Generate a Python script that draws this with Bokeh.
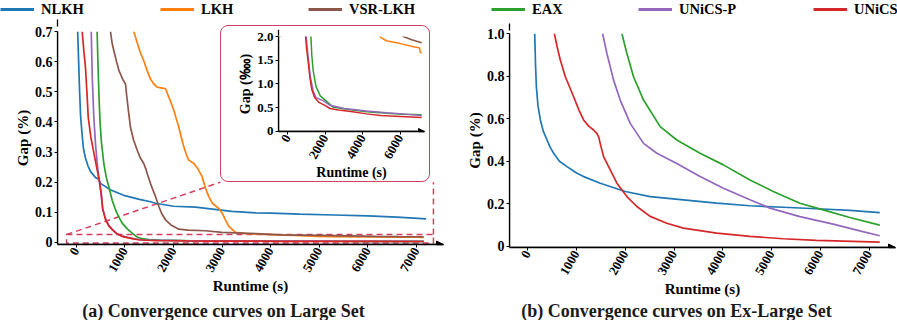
import math
from bokeh.plotting import figure
from bokeh.models import (Range1d, FixedTicker, PrintfTickFormatter, Arrow, NormalHead,
                          Legend, LegendItem, Label)
from bokeh.layouts import row, column
from bokeh.embed import file_html
from bokeh.resources import INLINE

FONT = "Liberation Serif"

# ---------------- data: Large Set (gap in %) ----------------
L_NLKH_X = [30, 50, 70, 90, 120, 150, 190, 240, 295, 400, 465, 500, 700, 1000, 1300, 1530, 1632, 2000, 2455, 3200, 3690, 4000, 4600, 5300, 6000, 6600, 7200]
L_NLKH_Y = [0.70, 0.60, 0.50, 0.42, 0.36, 0.31, 0.28, 0.255, 0.235, 0.215, 0.21, 0.196, 0.175, 0.155, 0.143, 0.135, 0.13, 0.12, 0.117, 0.103, 0.098, 0.097, 0.094, 0.091, 0.088, 0.084, 0.078]

L_UNICS_X = [123, 160, 191, 220, 247, 300, 360, 432, 480, 515, 545, 603, 670, 740, 830, 930, 1000, 1083, 1173, 1278, 1429, 1654, 1955, 2256, 2707, 3459, 4211, 4962, 6015, 7150]
L_UNICS_Y = [0.70, 0.63, 0.58, 0.50, 0.416, 0.35, 0.30, 0.24, 0.20, 0.16, 0.11, 0.076, 0.055, 0.042, 0.029, 0.021, 0.0175, 0.0148, 0.0115, 0.0088, 0.0071, 0.0061, 0.0055, 0.0048, 0.00447, 0.00413, 0.00367, 0.00333, 0.00313, 0.00290]

L_UNICSP_X = [309, 330, 362, 400, 440, 480, 515, 545, 603, 670, 740, 830, 930, 1000, 1080, 1200, 1353, 1504, 1880, 2256, 3008, 4211, 5263, 6165, 7150]
L_UNICSP_Y = [0.70, 0.55, 0.416, 0.32, 0.25, 0.20, 0.16, 0.112, 0.078, 0.057, 0.044, 0.030, 0.022, 0.019, 0.0158, 0.0115, 0.0085, 0.0071, 0.00647, 0.00547, 0.0048, 0.00427, 0.00393, 0.00367, 0.00333]

L_EAX_X = [430, 450, 470, 490, 520, 570, 620, 671, 740, 809, 880, 946, 1050, 1152, 1233, 1278, 1353, 1504, 1729, 2030, 2406, 3158, 4211, 5263, 6165, 7150]
L_EAX_Y = [0.70, 0.58, 0.48, 0.40, 0.33, 0.26, 0.215, 0.185, 0.14, 0.108, 0.083, 0.064, 0.045, 0.031, 0.020, 0.0161, 0.0128, 0.00947, 0.00747, 0.00647, 0.00513, 0.00467, 0.00413, 0.0038, 0.0036, 0.00347]

L_VSR_X = [705, 740, 775, 830, 880, 910, 960, 1015, 1030, 1050, 1080, 1115, 1180, 1255, 1320, 1390, 1430, 1460, 1540, 1632, 1700, 1760, 1837, 1950, 2111, 2300, 2660, 3000, 3690, 4200, 5000, 5600, 6165, 6617, 7150]
L_VSR_Y = [0.70, 0.66, 0.636, 0.60, 0.57, 0.559, 0.54, 0.526, 0.50, 0.471, 0.43, 0.383, 0.34, 0.306, 0.28, 0.262, 0.245, 0.229, 0.19, 0.152, 0.119, 0.095, 0.075, 0.058, 0.044, 0.041, 0.0386, 0.033, 0.029, 0.025, 0.023, 0.0215, 0.0200, 0.0193, 0.0187]

L_LKH_X = [1185, 1255, 1320, 1390, 1460, 1530, 1600, 1665, 1750, 1840, 1905, 1960, 2010, 2060, 2110, 2160, 2215, 2270, 2315, 2420, 2500, 2592, 2660, 2728, 2800, 2934, 3004, 3070, 3140, 3278, 3500, 4000, 4500, 4962, 5263, 6015, 6767, 7038, 7068, 7150]
L_LKH_Y = [0.70, 0.663, 0.63, 0.603, 0.570, 0.542, 0.525, 0.515, 0.513, 0.51, 0.482, 0.46, 0.438, 0.41, 0.383, 0.35, 0.317, 0.29, 0.273, 0.262, 0.245, 0.218, 0.18, 0.152, 0.13, 0.113, 0.097, 0.075, 0.053, 0.033, 0.029, 0.026, 0.023, 0.0198, 0.0191, 0.0185, 0.0178, 0.0176, 0.0167, 0.0165]

# ---------------- data: Ex-Large Set (gap in %) ----------------
X_NLKH_X = [143, 160, 177, 210, 259, 320, 396, 460, 532, 650, 805, 1000, 1146, 1487, 1999, 2510, 3192, 3874, 4557, 5239, 5921, 6603, 7217]
X_NLKH_Y = [1.0, 0.85, 0.75, 0.66, 0.594, 0.54, 0.5, 0.465, 0.4375, 0.40, 0.375, 0.345, 0.328, 0.297, 0.258, 0.234, 0.219, 0.203, 0.191, 0.184, 0.177, 0.169, 0.159]

X_UNICS_X = [546, 600, 668, 771, 941, 1050, 1146, 1250, 1351, 1420, 1453, 1500, 1555, 1692, 1828, 2033, 2237, 2510, 2851, 3192, 3874, 4557, 5239, 5921, 7217]
X_UNICS_Y = [1.0, 0.94, 0.875, 0.797, 0.703, 0.64, 0.594, 0.565, 0.547, 0.53, 0.515, 0.47, 0.422, 0.359, 0.297, 0.234, 0.1875, 0.141, 0.109, 0.086, 0.0625, 0.047, 0.036, 0.028, 0.02]

X_UNICSP_X = [1535, 1623, 1760, 1896, 2101, 2374, 2647, 3056, 3533, 4011, 4557, 4966, 5580, 6262, 6808, 7217]
X_UNICSP_Y = [1.0, 0.906, 0.781, 0.6875, 0.578, 0.484, 0.4375, 0.39, 0.328, 0.273, 0.219, 0.18, 0.14, 0.105, 0.073, 0.05]

X_EAX_X = [1930, 2033, 2169, 2374, 2715, 3056, 3533, 4011, 4557, 5034, 5580, 6058, 6603, 7217]
X_EAX_Y = [1.0, 0.906, 0.797, 0.6875, 0.5625, 0.5, 0.4375, 0.383, 0.3125, 0.258, 0.203, 0.172, 0.136, 0.1]

# ---------------- ticks & labels ----------------
X_TICKS = [0, 1000, 2000, 3000, 4000, 5000, 6000, 7000]
INSET_X_TICKS = [0, 2000, 4000, 6000]
L_Y_TICKS = [0, 0.1, 0.2, 0.3, 0.4, 0.5, 0.6, 0.7]
X_Y_TICKS = [0, 0.2, 0.4, 0.6, 0.8, 1.0]
INSET_Y_TICKS = [0, 0.5, 1.0, 1.5, 2.0]

LEGEND_NAMES = ["NLKH", "LKH", "VSR-LKH", "EAX", "UNiCS-P", "UNiCS"]
CAPTION_A = "(a) Convergence curves on Large Set"
CAPTION_B = "(b) Convergence curves on Ex-Large Set"

C_BLUE, C_ORANGE, C_GREEN = "#1f77b4", "#ff7f0e", "#2ca02c"
C_RED, C_PURPLE, C_BROWN = "#d62728", "#9467bd", "#8c564b"
LEGEND_COLORS = [C_BLUE, C_ORANGE, C_BROWN, C_GREEN, C_PURPLE, C_RED]
LEGEND_LEFT_PX = [0, 160, 308, 491, 638, 813]   # layout positions of legend entries
BOX_COLOR = "#d2405f"
LW = 1.7

W_TOTAL = 897
LEG_H = 20      # legend strip height
PLOT_H = 280    # plot row height
CAP_H = 20      # caption strip height


def style(p, xticks, yticks, xtick_fs, ytick_fs, lab_fs, xlabel, ylabel):
    p.xaxis.ticker = FixedTicker(ticks=xticks)
    p.yaxis.ticker = FixedTicker(ticks=yticks)
    p.yaxis.formatter = PrintfTickFormatter(format="%.1f")
    p.yaxis.major_label_overrides = {0: "0"}
    for ax in p.axis:
        ax.axis_line_color = "black"
        ax.axis_line_width = 1.3
        ax.major_tick_line_color = "black"
        ax.major_tick_out = 3
        ax.major_tick_in = 0
        ax.minor_tick_line_color = None
        ax.major_label_standoff = 2
        ax.axis_label_standoff = 1
        ax.major_label_text_font = FONT
        ax.major_label_text_font_style = "bold"
        ax.major_label_text_color = "black"
        ax.axis_label_text_font = FONT
        ax.axis_label_text_font_style = "bold"
        ax.axis_label_text_font_size = lab_fs
        ax.axis_label_text_color = "black"
    p.xaxis.major_label_text_font_size = xtick_fs
    p.yaxis.major_label_text_font_size = ytick_fs
    p.xaxis.major_label_standoff = 1
    p.xaxis.axis_label_standoff = 0
    p.xaxis.major_label_orientation = math.pi / 3
    p.xaxis.axis_label = xlabel
    p.yaxis.axis_label = ylabel
    p.xgrid.visible = False
    p.ygrid.visible = False
    p.outline_line_color = None


def frame_h(p):
    return p.height - p.min_border_top - p.min_border_bottom


def frame_w(p):
    return p.width - p.min_border_left - p.min_border_right


def arrows(p, top_px, size=7):
    xr, yr = p.x_range, p.y_range
    y_tip = yr.end + top_px * (yr.end - yr.start) / frame_h(p)
    head = dict(size=size, fill_color="black", line_color="black", line_width=1)
    p.add_layout(Arrow(end=NormalHead(**head), x_start=xr.start, y_start=yr.start,
                       x_end=xr.end, y_end=yr.start, line_color="black", line_width=1.3))
    p.add_layout(Arrow(end=NormalHead(**head), x_start=xr.start, y_start=yr.start,
                       x_end=xr.start, y_end=y_tip, line_color="black", line_width=1.3))


def strip(h):
    return figure(width=W_TOTAL, height=h, x_range=Range1d(0, W_TOTAL), y_range=Range1d(0, h),
                  output_backend="svg", toolbar_location=None, min_border=0,
                  x_axis_type=None, y_axis_type=None, outline_line_color=None)


# ---------------- legend strip ----------------
leg = strip(LEG_H)
for name, color, lx in zip(LEGEND_NAMES, LEGEND_COLORS, LEGEND_LEFT_PX):
    r = leg.line(x=[float("nan")], y=[float("nan")], line_width=3, color=color)
    leg.add_layout(Legend(items=[LegendItem(label=name, renderers=[r])],
                          orientation="horizontal", location=(lx, 2),
                          glyph_width=34, glyph_height=18, label_height=18, label_standoff=7,
                          padding=0, margin=0, border_line_alpha=0, background_fill_alpha=0,
                          label_text_font=FONT, label_text_font_style="bold",
                          label_text_font_size="14.5px", label_text_color="black"))

# ---------------- caption strip ----------------
cap = strip(CAP_H)
for text, cx in [(CAPTION_A, 223), (CAPTION_B, 676)]:
    cap.add_layout(Label(x=cx, y=CAP_H, text=text, text_align="center", text_baseline="top",
                         text_font=FONT, text_font_style="bold", text_font_size="18px",
                         text_color="#1a1a1a"))

# ---------------- left: Large set ----------------
W1 = 450
p1 = figure(width=W1, height=PLOT_H, x_range=Range1d(-385, 7557), y_range=Range1d(-0.007, 0.70),
            output_backend="svg", toolbar_location=None,
            min_border_left=57, min_border_right=7, min_border_top=34 - LEG_H,
            min_border_bottom=LEG_H + PLOT_H - 248,
            background_fill_alpha=0, border_fill_alpha=0)
style(p1, X_TICKS, L_Y_TICKS, "13px", "14px", "15px", "Runtime (s)", "Gap (%)")

# zoom box (data coordinates of the magnified region and of the inset panel)
ZOOM_L, ZOOM_R, ZOOM_B, ZOOM_T = -200, 7350, -0.002, 0.026
BOX_L, BOX_R, BOX_B, BOX_T = 2970, 7350, 0.20, 0.73

p1.quad(left=[ZOOM_L], right=[ZOOM_R], bottom=[ZOOM_B], top=[ZOOM_T], fill_alpha=0,
        line_color=BOX_COLOR, line_width=1.5, line_dash="6 4")
p1.segment(x0=[ZOOM_L, ZOOM_R], y0=[ZOOM_T, ZOOM_T], x1=[BOX_L, BOX_R], y1=[BOX_B, BOX_B],
           line_color=BOX_COLOR, line_width=1.5, line_dash="6 4")

SERIES_L = [(L_NLKH_X, L_NLKH_Y, C_BLUE), (L_LKH_X, L_LKH_Y, C_ORANGE),
            (L_VSR_X, L_VSR_Y, C_BROWN), (L_EAX_X, L_EAX_Y, C_GREEN),
            (L_UNICSP_X, L_UNICSP_Y, C_PURPLE), (L_UNICS_X, L_UNICS_Y, C_RED)]
for xs, ys, c in SERIES_L:
    p1.line(xs, ys, line_width=LW, color=c)

arrows(p1, 12)

# inset placement from main figure mapping
sx = frame_w(p1) / (p1.x_range.end - p1.x_range.start)
sy = frame_h(p1) / (p1.y_range.end - p1.y_range.start)
bl = round(p1.min_border_left + (BOX_L - p1.x_range.start) * sx)
br = round(p1.min_border_left + (BOX_R - p1.x_range.start) * sx)
bt = max(0, round(p1.min_border_top + (p1.y_range.end - BOX_T) * sy))
bb = round(p1.min_border_top + (p1.y_range.end - BOX_B) * sy)

inset = figure(width=br - bl - 3, height=bb - bt - 3,
               x_range=Range1d(-500, 7300), y_range=Range1d(-0.005, 2.0),
               output_backend="svg", toolbar_location=None,
               min_border_left=42, min_border_right=3, min_border_top=10, min_border_bottom=48,
               background_fill_alpha=0, border_fill_alpha=0)
inset.styles = {"border": "1.5px solid " + BOX_COLOR, "border-radius": "8px",
                "background-color": "white"}
style(inset, INSET_X_TICKS, INSET_Y_TICKS, "13px", "13px", "14px", "Runtime (s)", "Gap (‱)")
for xs, ys, c in SERIES_L:
    inset.line(xs, [v * 100 for v in ys], line_width=1.5, color=c)
arrows(inset, 7, size=6)

inset.margin = (bt, 0, 0, bl)
p1.margin = (-(bb), 0, 0, 0)
left = column(inset, p1)

# ---------------- right: Ex-Large set ----------------
W2 = 447
p2 = figure(width=W2, height=PLOT_H, x_range=Range1d(-374, 7540), y_range=Range1d(-0.005, 1.0),
            output_backend="svg", toolbar_location=None,
            min_border_left=59, min_border_right=2, min_border_top=33 - LEG_H,
            min_border_bottom=LEG_H + PLOT_H - 248)
style(p2, X_TICKS, X_Y_TICKS, "13px", "14px", "15px", "Runtime (s)", "Gap (%)")
for xs, ys, c in [(X_NLKH_X, X_NLKH_Y, C_BLUE), (X_EAX_X, X_EAX_Y, C_GREEN),
                  (X_UNICSP_X, X_UNICSP_Y, C_PURPLE), (X_UNICS_X, X_UNICS_Y, C_RED)]:
    p2.line(xs, ys, line_width=LW, color=c)
arrows(p2, 10)

layout = column(leg, row(left, p2), cap)
open("out.html", "w").write(file_html(layout, INLINE))
